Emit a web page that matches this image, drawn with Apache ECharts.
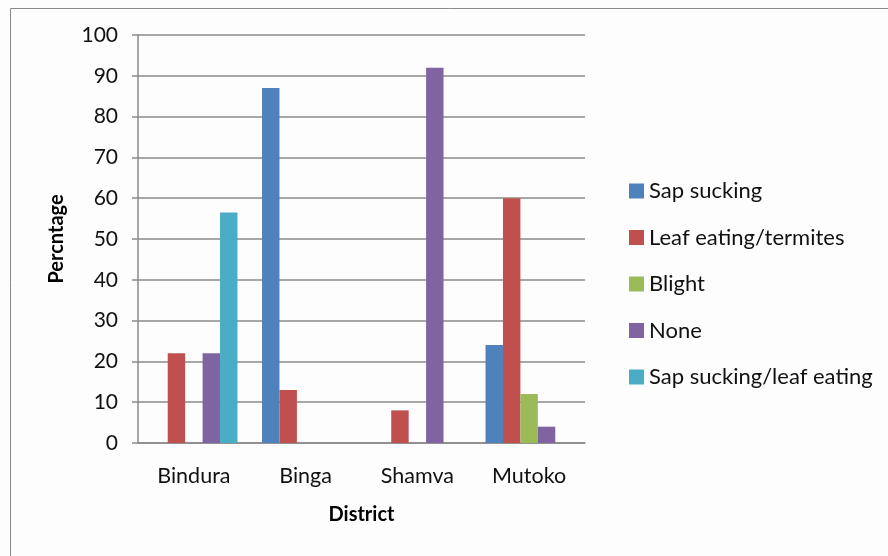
<!DOCTYPE html>
<html><head><meta charset="utf-8">
<script src="https://cdn.jsdelivr.net/npm/echarts@6/dist/echarts.min.js"></script>
<style>html,body{margin:0;padding:0;background:#fdfdfd}#c{width:888px;height:556px}</style>
</head><body><div id="c"></div>
<script>
const districts = ['Bindura', 'Binga', 'Shamva', 'Mutoko'];
const seriesNames = ['Sap sucking', 'Leaf eating/termites', 'Blight', 'None', 'Sap sucking/leaf eating'];
const sapSucking = [0, 87, 0, 24];
const leafEating = [22, 13, 8, 60];
const blight = [0, 0, 0, 12];
const none = [22, 0, 92, 4];
const sapLeaf = [56.5, 0, 0, 0];
const yTicks = [0, 10, 20, 30, 40, 50, 60, 70, 80, 90, 100];
const colors = ['#4F81BD', '#C0504D', '#9BBB59', '#8064A2', '#4BACC6'];

const allData = [sapSucking, leafEating, blight, none, sapLeaf];
const font = 'Lato, "Open Sans", sans-serif';
const chart = echarts.init(document.getElementById('c'), null, {renderer: 'canvas'});
chart.setOption({
  backgroundColor: '#fdfdfd',
  animation: false,
  color: colors,
  graphic: [{
    type: 'polyline', shape: {points: [[890, 8.5], [10.5, 8.5], [10.5, 560]]},
    style: {stroke: '#8a8a8a', lineWidth: 1, fill: null}
  }],
  grid: {left: 138, right: 303, top: 35, bottom: 113},
  legend: {
    orient: 'vertical', left: 624, top: 175,
    itemWidth: 15, itemHeight: 15, itemGap: 24.5,
    icon: 'rect',
    textStyle: {fontFamily: font, fontSize: 22, color: '#111'},
    data: seriesNames
  },
  xAxis: {
    type: 'category', data: districts,
    name: 'District', nameLocation: 'middle', nameGap: 62,
    nameTextStyle: {fontFamily: font, fontSize: 20, fontWeight: 'bold', color: '#000'},
    axisLine: {lineStyle: {color: '#8a8a8a', width: 1.5}},
    axisTick: {show: false},
    axisLabel: {fontFamily: font, fontSize: 21.5, color: '#111', margin: 22}
  },
  yAxis: {
    type: 'value', min: yTicks[0], max: yTicks[yTicks.length - 1], interval: 10,
    name: 'Percntage', nameLocation: 'middle', nameGap: 71,
    nameTextStyle: {fontFamily: font, fontSize: 20, fontWeight: 'bold', color: '#000'},
    axisLine: {show: true, lineStyle: {color: '#8a8a8a', width: 1.5}},
    axisTick: {show: true, length: 6, lineStyle: {color: '#8a8a8a', width: 1.5}},
    splitLine: {lineStyle: {color: '#8a8a8a', width: 1.5}},
    axisLabel: {fontFamily: font, fontSize: 21, color: '#111', margin: 20}
  },
  series: seriesNames.map((n, i) => ({
    type: 'bar', name: n, data: allData[i],
    barGap: '0%', barCategoryGap: '22%',
    itemStyle: {color: colors[i]}
  }))
});
</script></body></html>
